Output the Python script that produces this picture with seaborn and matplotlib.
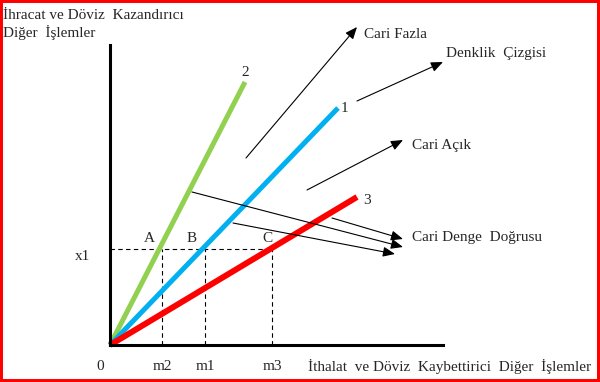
import matplotlib
matplotlib.use("Agg")
import matplotlib.pyplot as plt
from matplotlib.patches import Rectangle
import pandas as pd
import seaborn as sns

# balance lines, drawn from the origin (diagram units)
line_names = ["2", "1", "3"]
line_end_x = [135, 228, 247]
line_end_y = [263, 237, 148]
line_colors = ["#92D050", "#00B0F0", "#FF0000"]
line_widths = [3.6, 3.6, 4.3]

# points where x1 meets each line
point_names = ["A", "B", "C"]
tick_names = ["m2", "m1", "m3"]
tick_vals = [52, 95, 162]
x1 = 96

# callouts: label, label position, list of (tail, head)
callout_labels = ["Cari Fazla", "Denklik  Çizgisi", "Cari Açık", "Cari Denge  Doğrusu"]
callout_pos = [(254, 310), (336, 292), (302, 200), (302, 107)]
callout_arrows = [
    [((136, 187), (247, 318))],
    [((247, 244), (333, 283))],
    [((197, 155), (293, 205))],
    [((82, 153), (293, 98)), ((123, 122), (285, 91)), ((222, 127), (293, 106))],
]

sns.set_style("white")
plt.rcParams["font.family"] = ["Liberation Serif", "DejaVu Serif"]
plt.rcParams["font.size"] = 11

fig = plt.figure(figsize=(6, 3.82), dpi=100)
ax = fig.add_axes([0, 0, 1, 1])
ax.set_xlim(-110, 490)
ax.set_ylim(-37, 345)

for name, ex, ey, col, lw in zip(line_names, line_end_x, line_end_y, line_colors, line_widths):
    df = pd.DataFrame({"x": [0, ex], "y": [0, ey]})
    sns.lineplot(data=df, x="x", y="y", color=col, lw=lw, sort=False,
                 estimator=None, ax=ax, solid_capstyle="butt", zorder=3)

# dashed guides
ax.plot([0, max(tick_vals)], [x1, x1], color="black", lw=0.8, ls=(0, (4, 3)), zorder=2)
for m in tick_vals:
    ax.plot([m, m], [0, x1], color="black", lw=0.8, ls=(0, (4, 3)), zorder=2)

# axes through origin
for side in ["top", "right"]:
    ax.spines[side].set_visible(False)
ax.spines["left"].set_position(("data", 0))
ax.spines["bottom"].set_position(("data", 0))
ax.spines["left"].set_bounds(0, 300)
ax.spines["bottom"].set_bounds(0, 333)
for side in ["left", "bottom"]:
    ax.spines[side].set_color("black")
    ax.spines[side].set_linewidth(2.2)
    ax.spines[side].set_zorder(4)

ax.set_xticks(tick_vals, tick_names)
ax.set_yticks([])
ax.tick_params(axis="x", length=0, pad=11)
ax.set_xlabel("")
ax.set_ylabel("")
ax.text(-28, x1 - 7, "x1", ha="center", va="center")
ax.text(-10, -22, "0", ha="center", va="center")
ax.text(198, -22, "İthalat  ve Döviz  Kaybettirici  Diğer  İşlemler", ha="left", va="center")
ax.text(-107, 336, "İhracat ve Döviz  Kazandırıcı\nDiğer  İşlemler", ha="left", va="top",
        linespacing=1.25)

# line numbers and intersection letters
ax.text(135, 273, "2", ha="center", va="center")
ax.text(231, 237, "1", ha="left", va="center")
ax.text(253, 144, "3", ha="left", va="center")
for name, m in zip(point_names, tick_vals):
    ax.text(m - 13 + (m == tick_vals[2]) * 8, 107, name, ha="center", va="center")

for label, pos, arrows in zip(callout_labels, callout_pos, callout_arrows):
    ax.text(pos[0], pos[1], label, ha="left", va="center")
    for tail, head in arrows:
        ax.annotate("", xy=head, xytext=tail,
                    arrowprops=dict(arrowstyle="-|>,head_length=0.6,head_width=0.25",
                                    color="black", lw=0.8, mutation_scale=12,
                                    shrinkA=0, shrinkB=0))

fig.patches.append(Rectangle((0, 0), 1, 1, transform=fig.transFigure, fill=False,
                             edgecolor="red", lw=4.3, zorder=10))

fig.savefig("out.png", dpi=100)
